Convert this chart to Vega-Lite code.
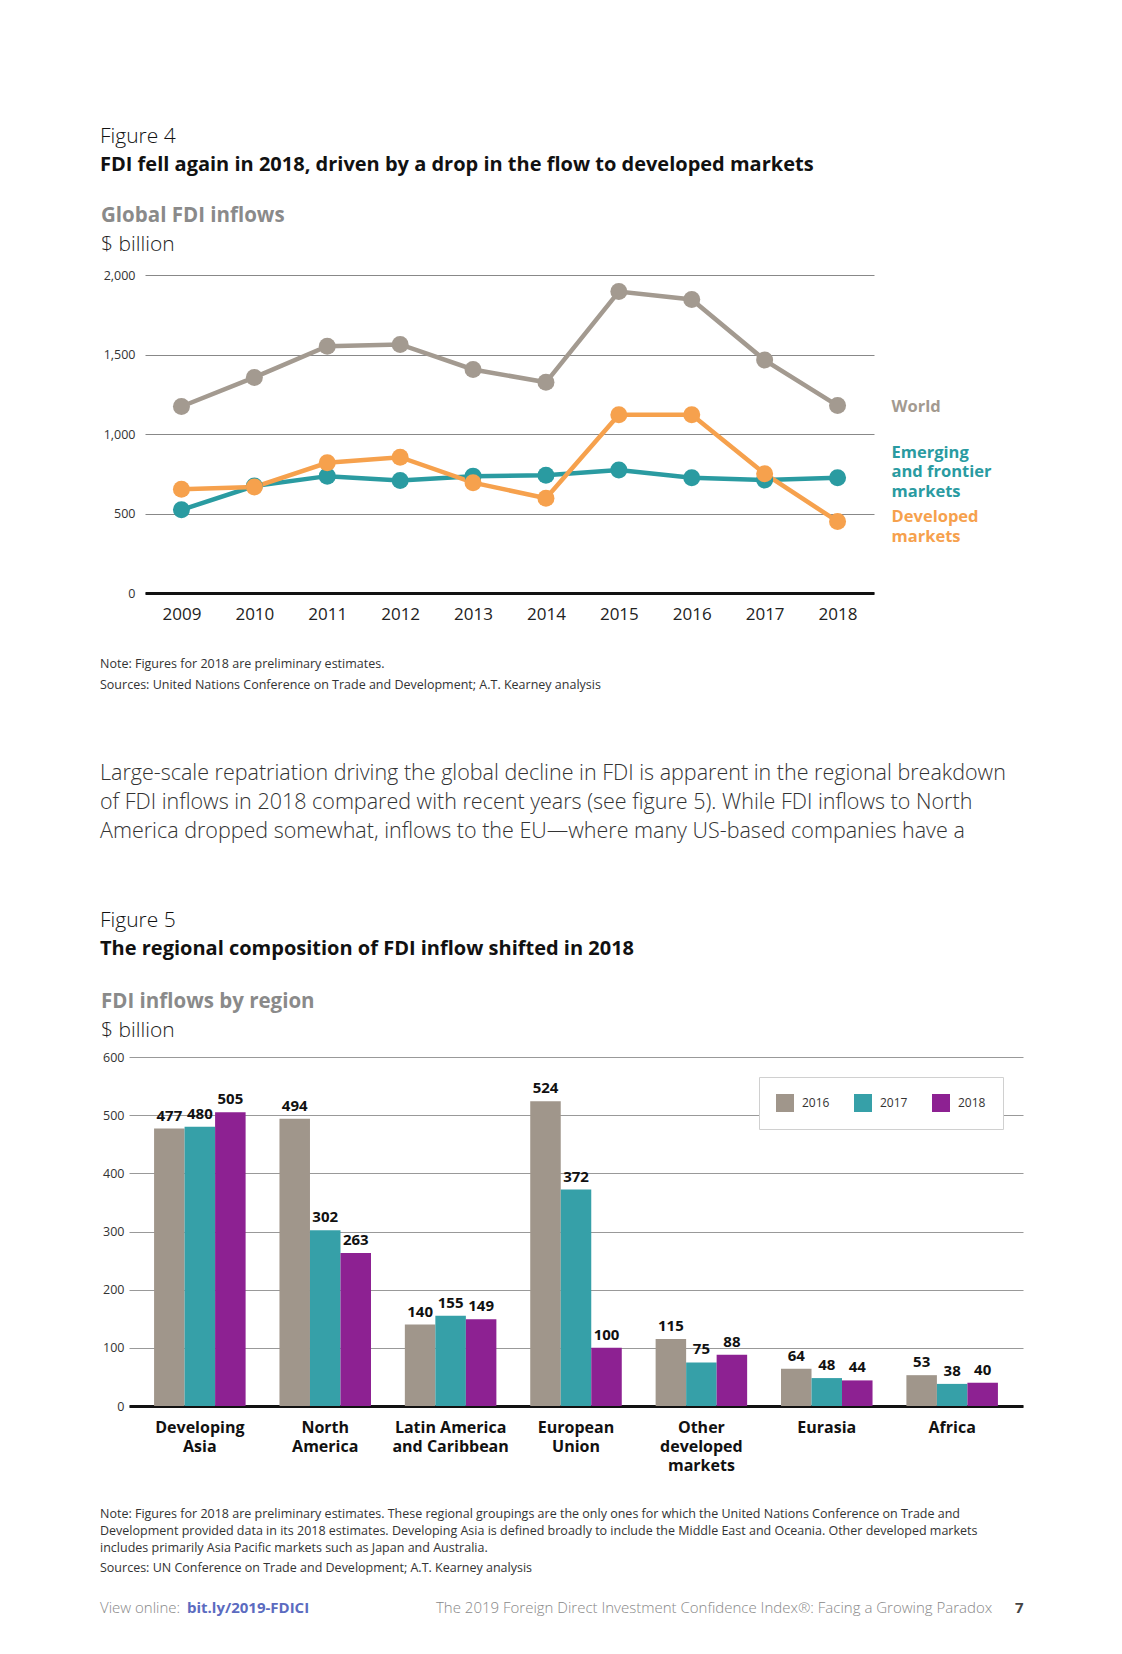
{
  "$schema": "https://vega.github.io/schema/vega-lite/v6.json",
  "background": "white",
  "padding": {"left": 100, "top": 126, "right": 0, "bottom": 0},
  "spacing": 0,
  "resolve": {"scale": {"color": "independent", "x": "independent", "y": "independent"}, "legend": {"color": "independent"}},
  "config": {
    "view": {"stroke": null},
    "font": "Open Sans",
    "title": {"anchor": "start", "frame": "bounds"}
  },
  "datasets": {
    "fdi": [
      {"year": "2009", "series": "World", "value": 1173},
      {"year": "2010", "series": "World", "value": 1356},
      {"year": "2011", "series": "World", "value": 1552},
      {"year": "2012", "series": "World", "value": 1563},
      {"year": "2013", "series": "World", "value": 1406},
      {"year": "2014", "series": "World", "value": 1325},
      {"year": "2015", "series": "World", "value": 1896},
      {"year": "2016", "series": "World", "value": 1846},
      {"year": "2017", "series": "World", "value": 1465},
      {"year": "2018", "series": "World", "value": 1179},
      {"year": "2009", "series": "Emerging", "value": 523},
      {"year": "2010", "series": "Emerging", "value": 673},
      {"year": "2011", "series": "Emerging", "value": 735},
      {"year": "2012", "series": "Emerging", "value": 708},
      {"year": "2013", "series": "Emerging", "value": 735},
      {"year": "2014", "series": "Emerging", "value": 740},
      {"year": "2015", "series": "Emerging", "value": 773},
      {"year": "2016", "series": "Emerging", "value": 725},
      {"year": "2017", "series": "Emerging", "value": 710},
      {"year": "2018", "series": "Emerging", "value": 725},
      {"year": "2009", "series": "Developed", "value": 652},
      {"year": "2010", "series": "Developed", "value": 667},
      {"year": "2011", "series": "Developed", "value": 819},
      {"year": "2012", "series": "Developed", "value": 854},
      {"year": "2013", "series": "Developed", "value": 694},
      {"year": "2014", "series": "Developed", "value": 596},
      {"year": "2015", "series": "Developed", "value": 1121},
      {"year": "2016", "series": "Developed", "value": 1121},
      {"year": "2017", "series": "Developed", "value": 750},
      {"year": "2018", "series": "Developed", "value": 450}
    ],
    "seriesLabels": [
      {"series": "World", "label": "World"},
      {"series": "Emerging", "label": "Emerging\nand frontier\nmarkets"},
      {"series": "Developed", "label": "Developed\nmarkets"}
    ],
    "regions": [
      {"region": "Developing Asia", "year": "2016", "value": 477},
      {"region": "Developing Asia", "year": "2017", "value": 480},
      {"region": "Developing Asia", "year": "2018", "value": 505},
      {"region": "North America", "year": "2016", "value": 494},
      {"region": "North America", "year": "2017", "value": 302},
      {"region": "North America", "year": "2018", "value": 263},
      {"region": "Latin America and Caribbean", "year": "2016", "value": 140},
      {"region": "Latin America and Caribbean", "year": "2017", "value": 155},
      {"region": "Latin America and Caribbean", "year": "2018", "value": 149},
      {"region": "European Union", "year": "2016", "value": 524},
      {"region": "European Union", "year": "2017", "value": 372},
      {"region": "European Union", "year": "2018", "value": 100},
      {"region": "Other developed markets", "year": "2016", "value": 115},
      {"region": "Other developed markets", "year": "2017", "value": 75},
      {"region": "Other developed markets", "year": "2018", "value": 88},
      {"region": "Eurasia", "year": "2016", "value": 64},
      {"region": "Eurasia", "year": "2017", "value": 48},
      {"region": "Eurasia", "year": "2018", "value": 44},
      {"region": "Africa", "year": "2016", "value": 53},
      {"region": "Africa", "year": "2017", "value": 38},
      {"region": "Africa", "year": "2018", "value": 40}
    ],
    "blank": [{}]
  },
  "vconcat": [
    {
      "width": 900, "height": 30,
      "data": {"name": "blank"},
      "mark": {"type": "text"},
      "encoding": {"text": {"value": ""}},
      "title": {
        "text": "Figure 4",
        "subtitle": "FDI fell again in 2018, driven by a drop in the flow to developed markets",
        "fontSize": 21, "fontWeight": 300, "color": "#111",
        "subtitleFontSize": 20, "subtitleFontWeight": "bold", "subtitleColor": "#111",
        "subtitlePadding": 8, "offset": 0
      }
    },
    {
      "spacing": 0,
      "resolve": {"scale": {"color": "independent"}, "legend": {"color": "independent"}},
      "hconcat": [
        {
          "width": 1, "height": 1,
          "data": {"name": "blank"},
          "mark": {"type": "text"},
          "encoding": {"text": {"value": ""}}
        },
        {
          "width": 729, "height": 318,
          "data": {"name": "fdi"},
          "title": {
            "text": "Global FDI inflows",
            "subtitle": "$ billion",
            "fontSize": 20.5, "fontWeight": "bold", "color": "#8a8a8a",
            "subtitleFontSize": 21, "subtitleFontWeight": 300, "subtitleColor": "#222",
            "subtitlePadding": 8, "offset": 14
          },
          "encoding": {
            "x": {
              "field": "year", "type": "ordinal",
              "scale": {"type": "point", "padding": 0.5},
              "axis": {
                "title": null, "labelAngle": 0, "labelFontSize": 17, "labelColor": "#222",
                "labelPadding": 13, "ticks": false, "domain": true, "domainColor": "#111",
                "domainWidth": 3, "grid": false, "minExtent": 65, "maxExtent": 65
              }
            },
            "y": {
              "field": "value", "type": "quantitative",
              "scale": {"domain": [0, 2000], "nice": false},
              "axis": {
                "title": null, "values": [0, 500, 1000, 1500, 2000], "format": ",d",
                "labelFontSize": 12.5, "labelColor": "#333", "labelPadding": 10,
                "ticks": false, "domain": false, "grid": true, "gridColor": "#888",
                "gridWidth": 1, "minExtent": 44, "maxExtent": 44
              }
            },
            "color": {
              "field": "series", "type": "nominal",
              "scale": {"domain": ["World", "Emerging", "Developed"], "range": ["#A39A90", "#2A9BA1", "#F6A14D"]},
              "legend": null
            }
          },
          "layer": [
            {"mark": {"type": "line", "strokeWidth": 4.5}},
            {"mark": {"type": "point", "filled": true, "size": 289, "opacity": 1}},
            {
              "transform": [
                {"filter": "datum.year == '2018' && datum.series == 'World'"},
                {"lookup": "series", "from": {"data": {"name": "seriesLabels"}, "key": "series", "fields": ["label"]}}
              ],
              "mark": {"type": "text", "align": "left", "baseline": "middle", "dx": 54, "dy": 1, "fontSize": 16.5, "fontWeight": "bold", "lineBreak": "\n", "lineHeight": 19.5},
              "encoding": {"text": {"field": "label"}}
            },
            {
              "transform": [
                {"filter": "datum.year == '2018' && datum.series == 'Developed'"},
                {"lookup": "series", "from": {"data": {"name": "seriesLabels"}, "key": "series", "fields": ["label"]}}
              ],
              "mark": {"type": "text", "align": "left", "baseline": "middle", "dx": 54, "dy": -4, "fontSize": 16.5, "fontWeight": "bold", "lineBreak": "\n", "lineHeight": 19.5},
              "encoding": {"text": {"field": "label"}}
            },
            {
              "transform": [
                {"filter": "datum.year == '2018' && datum.series == 'Emerging'"},
                {"lookup": "series", "from": {"data": {"name": "seriesLabels"}, "key": "series", "fields": ["label"]}}
              ],
              "mark": {"type": "text", "align": "left", "baseline": "middle", "dx": 54, "dy": -25, "fontSize": 16.5, "fontWeight": "bold", "lineBreak": "\n", "lineHeight": 19.5},
              "encoding": {"text": {"field": "label"}}
            }
          ]
        }
      ]
    },
    {
      "width": 900, "height": 68,
      "data": {"name": "blank"},
      "mark": {"type": "text"},
      "encoding": {"text": {"value": ""}},
      "title": {
        "text": ["Note: Figures for 2018 are preliminary estimates.", "Sources: United Nations Conference on Trade and Development; A.T. Kearney analysis"],
        "subtitle": [
          "Large-scale repatriation driving the global decline in FDI is apparent in the regional breakdown",
          "of FDI inflows in 2018 compared with recent years (see figure 5). While FDI inflows to North",
          "America dropped somewhat, inflows to the EU\u2014where many US-based companies have a"
        ],
        "fontSize": 12.5, "fontWeight": "normal", "color": "#333", "lineHeight": 21,
        "subtitleFontSize": 21.5, "subtitleFontWeight": 300, "subtitleColor": "#333", "subtitleLineHeight": 29,
        "subtitlePadding": 71, "offset": 0
      }
    },
    {
      "width": 900, "height": 32,
      "data": {"name": "blank"},
      "mark": {"type": "text"},
      "encoding": {"text": {"value": ""}},
      "title": {
        "text": "Figure 5",
        "subtitle": "The regional composition of FDI inflow shifted in 2018",
        "fontSize": 21, "fontWeight": 300, "color": "#111",
        "subtitleFontSize": 20, "subtitleFontWeight": "bold", "subtitleColor": "#111",
        "subtitlePadding": 8, "offset": 0
      }
    },
    {
      "spacing": 0,
      "resolve": {"scale": {"color": "independent"}, "legend": {"color": "independent"}},
      "hconcat": [
        {
          "width": 1, "height": 1,
          "data": {"name": "blank"},
          "mark": {"type": "text"},
          "encoding": {"text": {"value": ""}}
        },
        {
          "width": 894, "height": 349,
          "data": {"name": "regions"},
          "title": {
            "text": "FDI inflows by region",
            "subtitle": "$ billion",
            "fontSize": 20.5, "fontWeight": "bold", "color": "#8a8a8a",
            "subtitleFontSize": 21, "subtitleFontWeight": 300, "subtitleColor": "#222",
            "subtitlePadding": 8, "offset": 10
          },
          "encoding": {
            "x": {
              "field": "region", "type": "nominal", "sort": null,
              "scale": {"paddingInner": 0.27, "paddingOuter": 0.2},
              "axis": {
                "title": null, "labelAngle": 0, "labelFontSize": 16, "labelFontWeight": "bold",
                "labelColor": "#111", "labelPadding": 13, "labelLineHeight": 19, "ticks": false,
                "domain": true, "domainColor": "#111", "domainWidth": 3, "grid": false,
                "minExtent": 102, "maxExtent": 102,
                "labelExpr": "datum.label == 'Developing Asia' ? ['Developing', 'Asia'] : datum.label == 'North America' ? ['North', 'America'] : datum.label == 'Latin America and Caribbean' ? ['Latin America', 'and Caribbean'] : datum.label == 'European Union' ? ['European', 'Union'] : datum.label == 'Other developed markets' ? ['Other', 'developed', 'markets'] : datum.label"
              }
            },
            "xOffset": {"field": "year", "type": "nominal", "scale": {"paddingInner": 0}},
            "y": {
              "field": "value", "type": "quantitative",
              "scale": {"domain": [0, 600], "nice": false},
              "axis": {
                "title": null, "values": [0, 100, 200, 300, 400, 500, 600],
                "labelFontSize": 12.5, "labelColor": "#333", "labelPadding": 5,
                "ticks": false, "domain": false, "grid": true, "gridColor": "#999",
                "gridWidth": 1, "minExtent": 28, "maxExtent": 28
              }
            },
            "color": {
              "field": "year", "type": "nominal",
              "scale": {"domain": ["2016", "2017", "2018"], "range": ["#A0968B", "#36A0A8", "#8D2192"]},
              "legend": {
                "orient": "top-right", "direction": "horizontal", "title": null,
                "symbolType": "square", "symbolSize": 324, "symbolStrokeWidth": 0,
                "labelFontSize": 12, "labelColor": "#333", "labelOffset": 8,
                "columnPadding": 24, "padding": 17, "fillColor": "white",
                "strokeColor": "#d0d0d0", "offset": 20
              }
            }
          },
          "layer": [
            {"mark": {"type": "bar"}},
            {
              "mark": {"type": "text", "baseline": "bottom", "dy": -5, "fontSize": 15, "fontWeight": "bold"},
              "encoding": {"text": {"field": "value", "type": "quantitative"}, "color": {"value": "#111"}}
            }
          ]
        }
      ]
    },
    {
      "width": 900, "height": 26,
      "data": {"name": "blank"},
      "mark": {"type": "text"},
      "encoding": {"text": {"value": ""}},
      "title": {
        "text": [
          "Note: Figures for 2018 are preliminary estimates. These regional groupings are the only ones for which the United Nations Conference on Trade and",
          "Development provided data in its 2018 estimates. Developing Asia is defined broadly to include the Middle East and Oceania. Other developed markets",
          "includes primarily Asia Pacific markets such as Japan and Australia."
        ],
        "subtitle": "Sources: UN Conference on Trade and Development; A.T. Kearney analysis",
        "fontSize": 12.5, "fontWeight": "normal", "color": "#333", "lineHeight": 17,
        "subtitleFontSize": 12.5, "subtitleFontWeight": "normal", "subtitleColor": "#333",
        "subtitlePadding": 7, "offset": 0
      }
    },
    {
      "spacing": 0,
      "hconcat": [
        {
          "width": 87, "height": 1,
          "data": {"name": "blank"},
          "mark": {"type": "text"},
          "encoding": {"text": {"value": ""}},
          "title": {"text": "View online:", "fontSize": 15, "fontWeight": 300, "color": "#888", "frame": "group", "offset": 0}
        },
        {
          "width": 249, "height": 1,
          "data": {"name": "blank"},
          "mark": {"type": "text"},
          "encoding": {"text": {"value": ""}},
          "title": {"text": "bit.ly/2019-FDICI", "fontSize": 15, "fontWeight": "bold", "color": "#5B6BC0", "frame": "group", "offset": 0}
        },
        {
          "width": 579, "height": 1,
          "data": {"name": "blank"},
          "mark": {"type": "text"},
          "encoding": {"text": {"value": ""}},
          "title": {"text": "The 2019 Foreign Direct Investment Confidence Index\u00ae: Facing a Growing Paradox", "fontSize": 15, "fontWeight": 300, "color": "#888", "frame": "group", "offset": 0}
        },
        {
          "width": 10, "height": 1,
          "data": {"name": "blank"},
          "mark": {"type": "text"},
          "encoding": {"text": {"value": ""}},
          "title": {"text": "7", "fontSize": 15, "fontWeight": "bold", "color": "#444", "frame": "group", "offset": 0}
        }
      ]
    }
  ]
}
